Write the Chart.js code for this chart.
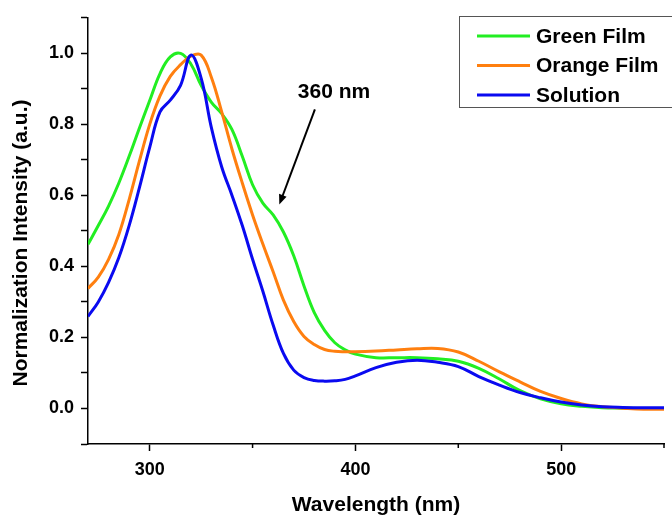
<!DOCTYPE html>
<html>
<head>
<meta charset="utf-8">
<script src="https://cdn.jsdelivr.net/npm/chart.js@4.4.0/dist/chart.umd.min.js"></script>
<style>
  html, body { margin: 0; padding: 0; background: #fff; }
  #wrap { width: 672px; height: 520px; }
</style>
</head>
<body>
<div id="wrap"><canvas id="chart" width="672" height="520"></canvas></div>
<script>
const wavelengths = [270, 275, 280, 285, 290, 295, 300, 305, 310, 315, 320, 325, 330, 335, 340,
  345, 350, 355, 360, 365, 370, 375, 380, 385, 390, 395, 400, 410, 420, 430, 440, 450, 460,
  470, 480, 490, 500, 510, 520, 530, 540, 550];

const greenFilm = [0.462, 0.515, 0.57, 0.635, 0.71, 0.79, 0.867, 0.943, 0.99, 1.0, 0.97, 0.91,
  0.862, 0.83, 0.785, 0.71, 0.63, 0.578, 0.545, 0.497, 0.43, 0.345, 0.27, 0.22, 0.185, 0.165,
  0.153, 0.143, 0.143, 0.143, 0.14, 0.133, 0.113, 0.083, 0.05, 0.027, 0.013, 0.006, 0.002,
  0.001, 0.0, 0.0];

const orangeFilm = [0.338, 0.37, 0.42, 0.49, 0.588, 0.697, 0.8, 0.88, 0.935, 0.968, 0.992, 0.995,
  0.932, 0.835, 0.73, 0.635, 0.545, 0.463, 0.385, 0.305, 0.245, 0.203, 0.18, 0.166, 0.161,
  0.16, 0.16, 0.162, 0.165, 0.168, 0.169, 0.159, 0.133, 0.103, 0.075, 0.048, 0.028, 0.013,
  0.005, 0.001, -0.002, -0.002];

const solution = [0.259, 0.3, 0.355, 0.425, 0.515, 0.622, 0.735, 0.835, 0.868, 0.91, 0.995, 0.93,
  0.79, 0.68, 0.6, 0.515, 0.42, 0.33, 0.235, 0.155, 0.108, 0.087, 0.079, 0.077, 0.078,
  0.082, 0.092, 0.115, 0.13, 0.136, 0.13, 0.118, 0.09, 0.066, 0.045, 0.03, 0.018, 0.01,
  0.005, 0.003, 0.002, 0.002];

const seriesNames = ['Green Film', 'Orange Film', 'Solution'];
const seriesColors = ['#22ee22', '#ff7f0f', '#0a0af0'];

const xTitle = 'Wavelength (nm)';
const yTitle = 'Normalization Intensity (a.u.)';
const note = { text: '360 nm', at: [389.6, 0.891], from: [380.3, 0.842], to: [363.0, 0.574] };

const FONT = '"Liberation Sans", Arial, sans-serif';

function toPoints(ys) {
  return wavelengths.map((w, i) => ({ x: w, y: ys[i] }));
}

const decor = {
  id: 'decor',
  afterDraw(chart) {
    const { ctx, scales: { x, y } } = chart;
    ctx.save();

    // short minor ticks on the x axis
    ctx.strokeStyle = '#000';
    ctx.lineWidth = 1.5;
    x.ticks.forEach(t => {
      if (t.value % 100 === 0 || t.value === x.min) return;
      const px = x.getPixelForValue(t.value);
      ctx.beginPath();
      ctx.moveTo(px, y.bottom);
      ctx.lineTo(px, y.bottom + 4);
      ctx.stroke();
    });

    // y axis title
    ctx.fillStyle = '#000';
    ctx.font = 'bold 21px ' + FONT;
    ctx.textAlign = 'center';
    ctx.textBaseline = 'middle';
    ctx.save();
    ctx.translate(21, 243);
    ctx.rotate(-Math.PI / 2);
    ctx.fillText(yTitle, 0, 0);
    ctx.restore();

    // annotation + arrow
    ctx.fillText(note.text, x.getPixelForValue(note.at[0]), y.getPixelForValue(note.at[1]));
    const x0 = x.getPixelForValue(note.from[0]), y0 = y.getPixelForValue(note.from[1]);
    const x1 = x.getPixelForValue(note.to[0]), y1 = y.getPixelForValue(note.to[1]);
    const ang = Math.atan2(y1 - y0, x1 - x0);
    ctx.lineWidth = 2;
    ctx.beginPath();
    ctx.moveTo(x0, y0);
    ctx.lineTo(x1 - 6 * Math.cos(ang), y1 - 6 * Math.sin(ang));
    ctx.stroke();
    ctx.beginPath();
    ctx.moveTo(x1, y1);
    ctx.lineTo(x1 - 10 * Math.cos(ang) + 4 * Math.sin(ang), y1 - 10 * Math.sin(ang) - 4 * Math.cos(ang));
    ctx.lineTo(x1 - 10 * Math.cos(ang) - 4 * Math.sin(ang), y1 - 10 * Math.sin(ang) + 4 * Math.cos(ang));
    ctx.closePath();
    ctx.fill();

    // legend box, runs off the right edge like the original
    ctx.strokeStyle = '#555';
    ctx.lineWidth = 1;
    ctx.strokeRect(459.5, 16.5, 260, 91);
    ctx.textAlign = 'left';
    chart.data.datasets.forEach((ds, i) => {
      const ly = 36 + i * 29.5;
      ctx.strokeStyle = ds.borderColor;
      ctx.lineWidth = 3;
      ctx.beginPath();
      ctx.moveTo(477, ly);
      ctx.lineTo(530, ly);
      ctx.stroke();
      ctx.fillStyle = '#000';
      ctx.fillText(ds.label, 536, ly + 1);
    });

    ctx.restore();
  }
};

new Chart(document.getElementById('chart'), {
  type: 'line',
  data: {
    datasets: [
      { label: seriesNames[0], data: toPoints(greenFilm), borderColor: seriesColors[0], order: 3 },
      { label: seriesNames[1], data: toPoints(orangeFilm), borderColor: seriesColors[1], order: 2 },
      { label: seriesNames[2], data: toPoints(solution), borderColor: seriesColors[2], order: 1 }
    ]
  },
  options: {
    responsive: false,
    animation: false,
    layout: { padding: { top: 15, right: 2, left: 0, bottom: 0 } },
    elements: {
      point: { radius: 0 },
      line: { borderWidth: 3, tension: 0.4, fill: false }
    },
    plugins: {
      legend: { display: false },
      tooltip: { enabled: false }
    },
    scales: {
      x: {
        type: 'linear',
        min: 270,
        max: 550,
        afterFit: s => { s.height = 76; },
        border: { display: true, color: '#000', width: 1.5 },
        grid: {
          drawOnChartArea: false,
          tickLength: 7,
          tickWidth: 1.5,
          tickColor: c => (c.tick && c.tick.value % 100 === 0 ? '#000' : 'rgba(0,0,0,0)')
        },
        ticks: {
          stepSize: 50,
          padding: 8,
          color: '#000',
          font: { family: FONT, size: 18, weight: 'bold' },
          maxRotation: 0,
          autoSkip: false,
          callback: v => (v % 100 === 0 ? String(v) : '')
        },
        title: {
          display: true,
          text: xTitle,
          color: '#000',
          font: { family: FONT, size: 21, weight: 'bold', lineHeight: 1.2 },
          padding: { top: 0, bottom: 2 }
        }
      },
      y: {
        min: -0.1,
        max: 1.1,
        afterFit: s => { s.width = 88; },
        border: { display: true, color: '#000', width: 1.5 },
        grid: {
          drawOnChartArea: false,
          tickLength: 7,
          tickWidth: 1.5,
          tickColor: '#000'
        },
        ticks: {
          stepSize: 0.1,
          padding: 7,
          color: '#000',
          font: { family: FONT, size: 18, weight: 'bold' },
          autoSkip: false,
          callback: v => {
            const k = Math.round(v * 10);
            return (k >= 0 && k <= 10 && k % 2 === 0) ? (k / 10).toFixed(1) : '';
          }
        }
      }
    }
  },
  plugins: [decor]
});
</script>
</body>
</html>
